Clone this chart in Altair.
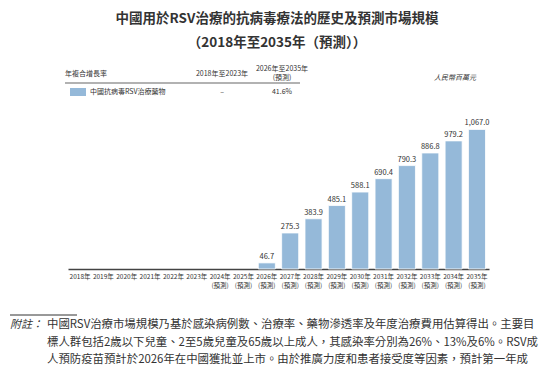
import altair as alt
import pandas as pd

# ---- data ----
years = ["2018年", "2019年", "2020年", "2021年", "2022年", "2023年", "2024年", "2025年", "2026年",
         "2027年", "2028年", "2029年", "2030年", "2031年", "2032年", "2033年", "2034年", "2035年"]
forecast = [False] * 6 + [True] * 12
values = [None] * 8 + [46.7, 275.3, 383.9, 485.1, 588.1, 690.4, 790.3, 886.8, 979.2, 1067.0]

title_lines = ["中國用於RSV治療的抗病毒療法的歷史及預測市場規模", "（2018年至2035年（預測））"]
cagr_header = ["年複合增長率", "2018年至2023年", "2026年至2035年", "(預測)"]
series_name = "中國抗病毒RSV治療藥物"
cagr_values = ["–", "41.6%"]
unit = "人民幣百萬元"
note_label = "附註："
note_lines = [
    "中國RSV治療市場規模乃基於感染病例數、治療率、藥物滲透率及年度治療費用估算得出。主要目",
    "標人群包括2歲以下兒童、2至5歲兒童及65歲以上成人，其感染率分別為26%、13%及6%。RSV成",
    "人預防疫苗預計於2026年在中國獲批並上市。由於推廣力度和患者接受度等因素，預計第一年成",
]

labels = [y + ("\n(預測)" if f else "") for y, f in zip(years, forecast)]
df = pd.DataFrame({"label": labels, "value": values})

FONT = "Noto Sans CJK TC"
BAR = "#95b9d9"
TXT = "#333333"

base = alt.Chart(df)

bars = base.mark_bar(color=BAR, stroke="white", strokeWidth=0.8).encode(
    x=alt.X("label:N", sort=labels, title=None,
            scale=alt.Scale(paddingInner=0.27, paddingOuter=0.15),
            axis=alt.Axis(labelExpr="split(datum.label, '\\n')", labelAngle=0,
                          labelFont=FONT, labelFontSize=6.5, labelColor=TXT,
                          labelLineHeight=9, labelPadding=4, ticks=False,
                          domainColor="#444444", domainWidth=1.5, grid=False)),
    y=alt.Y("value:Q", scale=alt.Scale(domain=[0, 1200]), axis=None),
)

vals = base.transform_filter("datum.value != null").mark_text(
    baseline="bottom", dy=-2, font=FONT, fontSize=7.5, color=TXT
).encode(
    x=alt.X("label:N", sort=labels),
    y=alt.Y("value:Q"),
    text=alt.Text("value:Q", format=",.1f"),
)


def txt(text, x, y, size=7, align="center", weight="normal", style="normal", color=TXT):
    return alt.Chart(pd.DataFrame({"t": [text]})).mark_text(
        align=align, baseline="middle", font=FONT, fontSize=size, fontWeight=weight,
        fontStyle=style, color=color
    ).encode(x=alt.value(x), y=alt.value(y), text="t:N")


def rule(x1, x2, y, color="#555555", w=1.0):
    return alt.Chart(pd.DataFrame({"a": [0]})).mark_rule(color=color, strokeWidth=w).encode(
        x=alt.value(x1), x2=alt.value(x2), y=alt.value(y))


layers = [bars, vals]
# title
layers.append(txt(title_lines[0], 209, -93, size=13.5, weight="bold"))
layers.append(txt(title_lines[1], 209, -69, size=13.5, weight="bold"))
# CAGR table
layers.append(txt(cagr_header[0], -3, -38, size=7, align="left"))
layers.append(txt(cagr_header[1], 154, -38, size=7))
layers.append(txt(cagr_header[2], 214, -43, size=7))
layers.append(txt(cagr_header[3], 214, -34, size=7))
layers.append(rule(-3, 232, -29, color="#666666", w=1.2))
layers.append(alt.Chart(pd.DataFrame({"a": [0]})).mark_rect(color=BAR).encode(
    x=alt.value(2), x2=alt.value(18), y=alt.value(-24), y2=alt.value(-16)))
layers.append(txt(series_name, 22, -20, size=7, align="left"))
layers.append(txt(cagr_values[0], 154, -20, size=7))
layers.append(txt(cagr_values[1], 214, -20, size=7))
layers.append(txt(unit, 387, -34, size=7, style="italic"))
# footnote
layers.append(rule(-58, 9, 203, color="#333333", w=1))
layers.append(txt(note_label, -58, 213, size=11, align="left", style="italic"))
for i, line in enumerate(note_lines):
    layers.append(txt(line, -21, 213 + 17.5 * i, size=11.4, align="left"))

chart = alt.layer(*layers).properties(
    width=421, height=157,
    padding={"left": 60, "top": 104, "right": 57, "bottom": 96},
    autosize=alt.AutoSizeParams(type="none"),
    background="white",
).configure_view(strokeWidth=0)

chart.save("out.html", embed_options={"renderer": "svg", "actions": False})
